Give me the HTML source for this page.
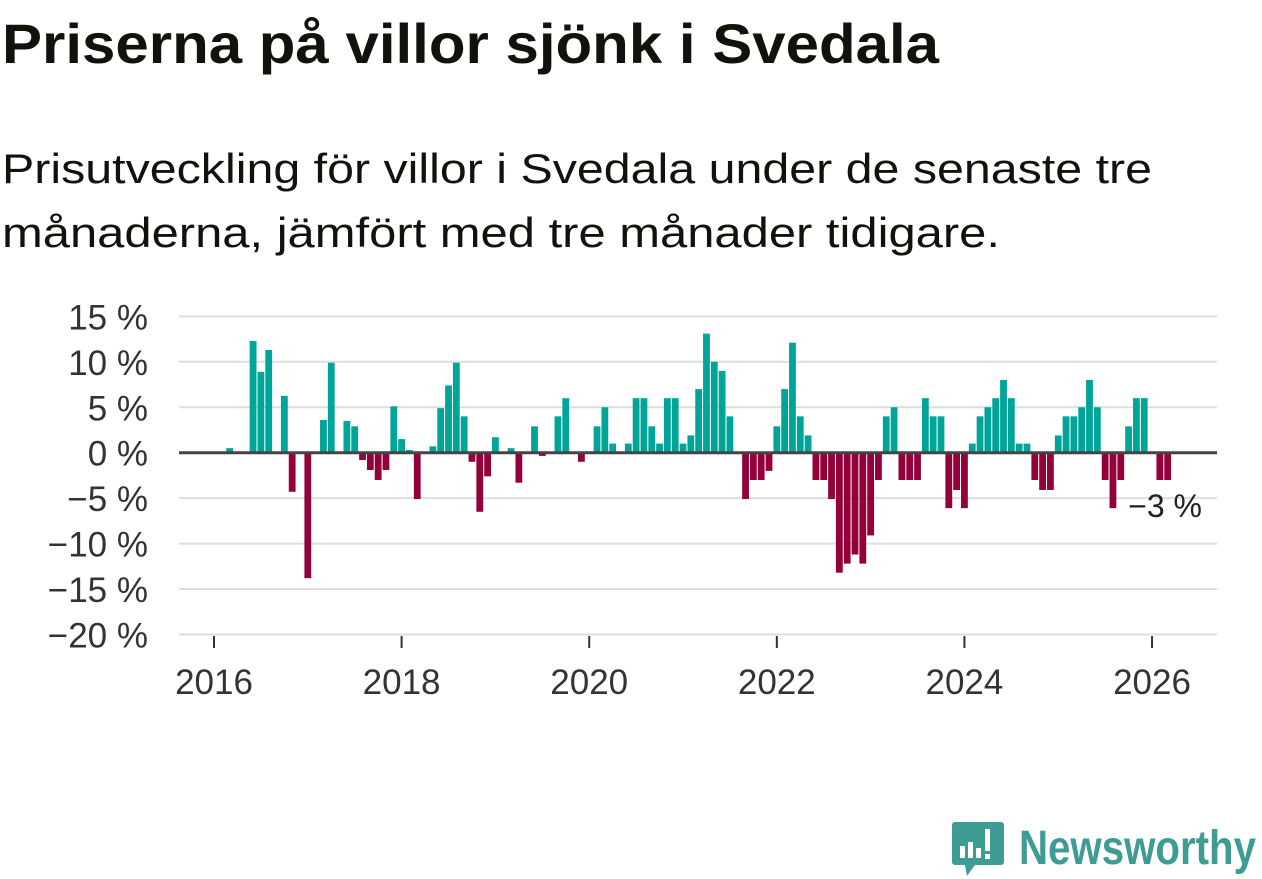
<!DOCTYPE html>
<html><head><meta charset="utf-8"><style>
html,body{margin:0;padding:0;background:#fff;}
svg{display:block;font-family:"Liberation Sans",sans-serif;}
</style></head><body>
<svg id="chart" width="1262" height="879" viewBox="0 0 1262 879">
<text x="2" y="63" font-size="56" font-weight="bold" fill="#12120d" textLength="937" lengthAdjust="spacingAndGlyphs">Priserna på villor sjönk i Svedala</text>
<text x="2" y="183" font-size="42" fill="#12120d" textLength="1150" lengthAdjust="spacingAndGlyphs">Prisutveckling för villor i Svedala under de senaste tre</text>
<text x="2" y="247" font-size="42" fill="#12120d" textLength="998" lengthAdjust="spacingAndGlyphs">månaderna, jämfört med tre månader tidigare.</text>
<g id="grid"></g>
<g id="bars"></g>
<g id="axes"></g>
<text x="1202" y="517" font-size="32" fill="#222" text-anchor="end">−3 %</text>
<g>
<path d="M955 822 h46 a3 3 0 0 1 3 3 v37 a3 3 0 0 1 -3 3 h-26 l-8 11 l-2 -11 h-10 a3 3 0 0 1 -3 -3 v-37 a3 3 0 0 1 3 -3z" fill="#3f9c94"/>
<rect x="960" y="846" width="5" height="12" fill="#fff"/><rect x="968" y="842" width="5" height="16" fill="#fff"/><rect x="976" y="848" width="5" height="10" fill="#fff"/><rect x="985" y="829" width="5" height="22" fill="#fff"/><rect x="985" y="854" width="5" height="5" fill="#fff"/>
<text x="1019" y="864" font-size="48" font-weight="bold" fill="#3f9c94" textLength="237" lengthAdjust="spacingAndGlyphs">Newsworthy</text>
</g>
</svg>
<script>
const values = [0,0,0.5,0,0,12.3,8.9,11.3,0,6.25,-4.3,0,
-13.8,0,3.6,9.9,0,3.5,2.9,-0.8,-1.9,-3.0,-1.9,5.1,
1.5,0.3,-5.1,0,0.7,4.9,7.4,9.9,4.0,-1.0,-6.5,-2.6,
1.7,0,0.5,-3.3,0,2.9,-0.35,0,4.0,6.0,0,-1.0,
0,2.9,5.0,1.0,0,1.0,6.0,6.0,2.9,1.0,6.0,6.0,
1.0,1.9,7.0,13.1,10.0,9.0,4.0,0,-5.1,-3.0,-3.0,-2.0,
2.9,7.0,12.1,4.0,1.9,-3.0,-3.0,-5.1,-13.2,-12.2,-11.2,-12.2,
-9.1,-3.0,4.0,5.0,-3.0,-3.0,-3.0,6.0,4.0,4.0,-6.1,-4.1,
-6.1,1.0,4.0,5.0,6.0,8.0,6.0,1.0,1.0,-3.0,-4.1,-4.1,
1.9,4.0,4.0,5.0,8.0,5.0,-3.0,-6.1,-3.0,2.9,6.0,6.0,
0,-3.0,-3.0];
const yTicks = [15,10,5,0,-5,-10,-15,-20];
const yTickLabels = ["15 %","10 %","5 %","0 %","−5 %","−10 %","−15 %","−20 %"];
const xYears = [2016,2018,2020,2022,2024,2026];
const startYear = 2016;

const NS='http://www.w3.org/2000/svg';
const x0=214, pxPerMonth=7.817, y0=452.7, pxPerPct=9.09;
function xs(m){return x0+m*pxPerMonth;}
function ys(v){return y0-v*pxPerPct;}
function mk(tag,attrs,parent){const e=document.createElementNS(NS,tag);for(const k in attrs)e.setAttribute(k,attrs[k]);parent.appendChild(e);return e;}
const grid=document.getElementById('grid'),bars=document.getElementById('bars'),axes=document.getElementById('axes');
yTicks.forEach((t,i)=>{
  if(t!==0){const l=mk('line',{x1:179,x2:1217,y1:ys(t),y2:ys(t),stroke:'#dedede','stroke-width':2},grid);
  
  }
  const tx=mk('text',{x:148,y:ys(t)+13,'font-size':35,fill:'#333','text-anchor':'end'},axes);
  tx.textContent=yTickLabels[i];
  
  
});
values.forEach((v,m)=>{
  if(v===0)return;
  const y=Math.min(ys(v),y0),h=Math.abs(ys(v)-y0);
  const r=mk('rect',{x:xs(m)-3.4,y:y,width:6.8,height:h,fill:v>0?'#00a599':'#93003a'},bars);
  
  
});
const zl=mk('line',{x1:179,x2:1217,y1:y0,y2:y0,stroke:'#444','stroke-width':3},axes);


xYears.forEach(yr=>{
  const x=xs((yr-startYear)*12);
  const tk=mk('line',{x1:x,x2:x,y1:636,y2:648,stroke:'#333','stroke-width':2},axes);
  
  
  const tx=mk('text',{x:x,y:694,'font-size':35,fill:'#333','text-anchor':'middle'},axes);
  tx.textContent=String(yr);
  
  
});
</script>
</body></html>
